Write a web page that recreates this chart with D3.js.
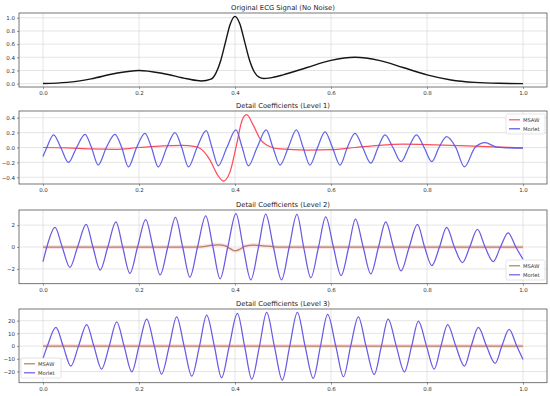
<!DOCTYPE html>
<html>
<head>
<meta charset="utf-8">
<script src="https://cdn.jsdelivr.net/npm/d3@7"></script>
<style>
  body { margin: 0; background: #fff; }
  svg { display: block; font-family: "DejaVu Sans", sans-serif; }
</style>
</head>
<body>
<svg id="chart" width="550" height="396"></svg>
<script>
const titles = [
    'Original ECG Signal (No Noise)',
    'Detail Coefficients (Level 1)',
    'Detail Coefficients (Level 2)',
    'Detail Coefficients (Level 3)',
];
const seriesNames = ['MSAW', 'Morlet'];
const xTicks = [0, 0.2, 0.4, 0.6, 0.8, 1.0];
const yTicks = [
    [0, 0.2, 0.4, 0.6, 0.8, 1.0],
    [-0.4, -0.2, 0, 0.2, 0.4],
    [-2, 0, 2],
    [-20, -10, 0, 10, 20],
];

// [t, value]
const ecg = [
    [0, 0.003], [0.05, 0.02], [0.1, 0.073], [0.15, 0.155], [0.2, 0.2], [0.25, 0.155],
    [0.3, 0.074], [0.33, 0.041], [0.35, 0.069], [0.36, 0.157], [0.37, 0.344], [0.38, 0.625],
    [0.39, 0.902], [0.4, 1.022], [0.41, 0.909], [0.42, 0.638], [0.43, 0.363], [0.44, 0.181],
    [0.45, 0.1], [0.46, 0.079], [0.47, 0.084], [0.48, 0.097], [0.5, 0.133], [0.55, 0.245],
    [0.6, 0.354], [0.65, 0.4], [0.7, 0.354], [0.75, 0.245], [0.8, 0.133], [0.85, 0.056],
    [0.9, 0.019], [0.95, 0.005], [1.0, 0.001],
];

const msaw1 = [
    [0, 0], [0.05, -0.005], [0.1, -0.02], [0.15, -0.025], [0.2, 0], [0.25, 0.022],
    [0.29, 0.027], [0.315, 0.015], [0.327, -0.01], [0.348, -0.17], [0.362, -0.35],
    [0.376, -0.45], [0.39, -0.32], [0.403, 0.03], [0.414, 0.35], [0.424, 0.44],
    [0.438, 0.3], [0.452, 0.12], [0.473, 0.01], [0.494, -0.02], [0.55, -0.035],
    [0.6, -0.03], [0.65, 0], [0.7, 0.03], [0.75, 0.045], [0.8, 0.04], [0.85, 0.03],
    [0.9, 0.02], [0.95, 0.005], [1.0, -0.005],
];

const morlet1 = [
    [0, -0.12], [0.008, 0], [0.022, 0.17], [0.037, 0], [0.053, -0.2], [0.07, 0],
    [0.0875, 0.177], [0.101, 0], [0.115, -0.235], [0.132, 0], [0.15, 0.177], [0.164, 0],
    [0.178, -0.26], [0.195, 0], [0.2125, 0.19], [0.226, 0], [0.24, -0.26], [0.258, 0],
    [0.275, 0.2], [0.289, 0], [0.303, -0.26], [0.321, 0], [0.34, 0.225], [0.352, 0],
    [0.365, -0.245], [0.383, 0], [0.402, 0.235], [0.415, 0], [0.428, -0.245], [0.446, 0],
    [0.465, 0.235], [0.479, 0], [0.494, -0.235], [0.511, 0], [0.528, 0.235], [0.542, 0],
    [0.556, -0.235], [0.572, 0], [0.5875, 0.21], [0.603, 0], [0.619, -0.235], [0.634, 0],
    [0.65, 0.19], [0.666, 0], [0.683, -0.21], [0.698, 0], [0.7125, 0.17], [0.729, 0],
    [0.746, -0.19], [0.762, 0], [0.778, 0.17], [0.794, 0], [0.81, -0.19], [0.825, 0],
    [0.841, 0.145], [0.86, 0], [0.878, -0.26], [0.9, 0], [0.921, 0.065], [0.945, 0.005],
    [0.97, -0.005], [1.0, -0.01],
];

const msaw2 = [
    [0, 0], [0.1, 0], [0.2, 0], [0.3, 0], [0.33, 0.02], [0.35, 0.15], [0.365, 0.2],
    [0.38, 0.1], [0.39, -0.15], [0.4, -0.35], [0.41, -0.2], [0.42, 0.05], [0.44, 0.18],
    [0.46, 0.1], [0.48, 0.02], [0.5, 0], [0.6, 0], [0.8, 0], [1.0, 0],
];

const morlet2 = [
    [0, -1.33], [0.008, 0], [0.025, 1.79], [0.04, 0], [0.056, -1.85], [0.072, 0],
    [0.09, 2.06], [0.104, 0], [0.119, -2.1], [0.135, 0], [0.152, 2.3], [0.166, 0],
    [0.181, -2.4], [0.197, 0], [0.214, 2.5], [0.229, 0], [0.244, -2.55], [0.26, 0],
    [0.276, 2.7], [0.291, 0], [0.306, -2.75], [0.322, 0], [0.339, 2.85], [0.354, 0],
    [0.369, -2.9], [0.385, 0], [0.402, 3.06], [0.417, 0], [0.433, -3.0], [0.449, 0],
    [0.464, 3.0], [0.48, 0], [0.497, -3.0], [0.513, 0], [0.529, 2.97], [0.543, 0],
    [0.558, -2.8], [0.574, 0], [0.589, 2.76], [0.605, 0], [0.621, -2.6], [0.637, 0],
    [0.651, 2.55], [0.667, 0], [0.683, -2.45], [0.699, 0], [0.714, 2.3], [0.73, 0],
    [0.746, -2.18], [0.763, 0], [0.78, 2.06], [0.795, 0], [0.81, -1.7], [0.826, 0],
    [0.841, 1.79], [0.857, 0], [0.874, -1.42], [0.889, 0], [0.905, 1.6], [0.921, 0],
    [0.938, -1.33], [0.953, 0], [0.969, 1.3], [0.985, 0], [1.0, -1.12],
];

const msaw3 = [[0, 0], [0.25, 0], [0.5, 0], [0.75, 0], [1.0, 0]];

const morlet3 = [
    [0, -9.7], [0.009, 0], [0.027, 14.7], [0.042, 0], [0.058, -15.7], [0.074, 0],
    [0.091, 17], [0.106, 0], [0.122, -18.1], [0.138, 0], [0.1535, 19.1], [0.169, 0],
    [0.185, -20.2], [0.2, 0], [0.216, 21.3], [0.232, 0], [0.247, -22], [0.263, 0],
    [0.2785, 23.1], [0.294, 0], [0.31, -23.6], [0.326, 0], [0.341, 24.4], [0.357, 0],
    [0.372, -24.9], [0.388, 0], [0.405, 25.7], [0.42, 0], [0.435, -26], [0.451, 0],
    [0.466, 26.5], [0.482, 0], [0.4986, -26.8], [0.514, 0], [0.53, 26.5], [0.546, 0],
    [0.563, -25.4], [0.578, 0], [0.593, 25], [0.61, 0], [0.626, -24.1], [0.641, 0],
    [0.657, 23.1], [0.673, 0], [0.69, -22.3], [0.705, 0], [0.719, 21.3], [0.736, 0],
    [0.753, -20.2], [0.768, 0], [0.782, 19.7], [0.799, 0], [0.815, -18.1], [0.829, 0],
    [0.843, 17], [0.86, 0], [0.878, -15.7], [0.892, 0], [0.907, 14.7], [0.924, 0],
    [0.942, -13.6], [0.956, 0], [0.971, 13.1], [0.987, 0], [1.0, -10.5],
];

const svg = d3.select('#chart');
const x = d3.scaleLinear().domain([-0.05, 1.05]).range([19, 547]);
const fmt1 = d3.format('.1f');
const fmt0 = d3.format('d');

const panels = [
    { top: 13, bottom: 87, yDomain: [-0.051, 1.073], fmt: fmt1,
      series: [{ data: ecg, color: '#151515', width: 1.4 }], legend: null },
    { top: 111, bottom: 184, yDomain: [-0.49, 0.49], fmt: fmt1,
      series: [
          { name: seriesNames[0], data: msaw1, color: '#ff4d5a', width: 1.25 },
          { name: seriesNames[1], data: morlet1, color: '#5252e6', width: 1.25, opacity: 0.9 },
      ],
      legend: { x: 506, y: 114, w: 39, h: 20 } },
    { top: 210, bottom: 283.7, yDomain: [-3.35, 3.38], fmt: fmt0,
      series: [
          { name: seriesNames[0], data: msaw2, color: '#a8845e', width: 1.25, halo: true },
          { name: seriesNames[1], data: morlet2, color: '#6a5ae2', width: 1.25 },
      ],
      legend: { x: 506, y: 260, w: 39, h: 20 } },
    { top: 309, bottom: 382.7, yDomain: [-28.8, 29.2], fmt: fmt0,
      series: [
          { name: seriesNames[0], data: msaw3, color: '#a8845e', width: 1.25, halo: true },
          { name: seriesNames[1], data: morlet3, color: '#6a5ae2', width: 1.25 },
      ],
      legend: { x: 21, y: 358, w: 40, h: 20 } },
];

panels.forEach((p, i) => {
    const y = d3.scaleLinear().domain(p.yDomain).range([p.bottom, p.top]);
    const g = svg.append('g');
    const [x0, x1] = x.range();

    // grid
    g.selectAll('.gx').data(xTicks).join('line')
        .attr('x1', (d) => x(d)).attr('x2', (d) => x(d))
        .attr('y1', p.top).attr('y2', p.bottom)
        .attr('stroke', '#dadada').attr('stroke-width', 0.7);
    g.selectAll('.gy').data(yTicks[i]).join('line')
        .attr('x1', x0).attr('x2', x1)
        .attr('y1', (d) => y(d)).attr('y2', (d) => y(d))
        .attr('stroke', '#dadada').attr('stroke-width', 0.7);

    // lines
    const line = d3.line()
        .x((d) => x(d[0]))
        .y((d) => y(d[1]))
        .curve(d3.curveMonotoneX);
    p.series.forEach((s) => {
        if (s.halo) {
            g.append('path').attr('d', line(s.data)).attr('fill', 'none')
                .attr('stroke', '#ffdfe8').attr('stroke-width', 4);
        }
        g.append('path').attr('d', line(s.data)).attr('fill', 'none')
            .attr('stroke', s.color).attr('stroke-width', s.width)
            .attr('stroke-opacity', s.opacity || 1)
            .attr('stroke-linejoin', 'round');
    });

    // frame
    g.append('rect')
        .attr('x', x0).attr('y', p.top)
        .attr('width', x1 - x0).attr('height', p.bottom - p.top)
        .attr('fill', 'none').attr('stroke', '#555').attr('stroke-width', 0.8);

    // axes
    const xAxis = d3.axisBottom(x).tickValues(xTicks).tickFormat(fmt1).tickSize(2).tickPadding(2);
    const yAxis = d3.axisLeft(y).tickValues(yTicks[i]).tickFormat(p.fmt).tickSize(2).tickPadding(2);
    [g.append('g').attr('transform', `translate(0,${p.bottom})`).call(xAxis),
     g.append('g').attr('transform', `translate(${x0},0)`).call(yAxis)].forEach((a) => {
        a.select('.domain').remove();
        a.selectAll('line').attr('stroke', '#555').attr('stroke-width', 0.6);
        a.selectAll('text').attr('fill', '#333').style('font-size', '5.5px')
            .style('font-family', '"DejaVu Sans", sans-serif');
    });

    // title
    g.append('text')
        .attr('x', (x0 + x1) / 2).attr('y', p.top - 3.5)
        .attr('text-anchor', 'middle')
        .attr('fill', '#222')
        .style('font-size', '6.8px')
        .text(titles[i]);

    // legend
    if (p.legend) {
        const L = p.legend;
        const lg = g.append('g').attr('transform', `translate(${L.x},${L.y})`);
        lg.append('rect').attr('width', L.w).attr('height', L.h).attr('rx', 1.5)
            .attr('fill', '#fff').attr('fill-opacity', 0.8)
            .attr('stroke', '#d4d4d4').attr('stroke-width', 0.6);
        p.series.forEach((s, k) => {
            const yy = 5.8 + k * 9;
            lg.append('line').attr('x1', 3).attr('x2', 14).attr('y1', yy).attr('y2', yy)
                .attr('stroke', s.color).attr('stroke-width', 1.2);
            lg.append('text').attr('x', 17).attr('y', yy + 1.8)
                .attr('fill', '#333').style('font-size', '5.2px').text(s.name);
        });
    }
});
</script>
</body>
</html>
